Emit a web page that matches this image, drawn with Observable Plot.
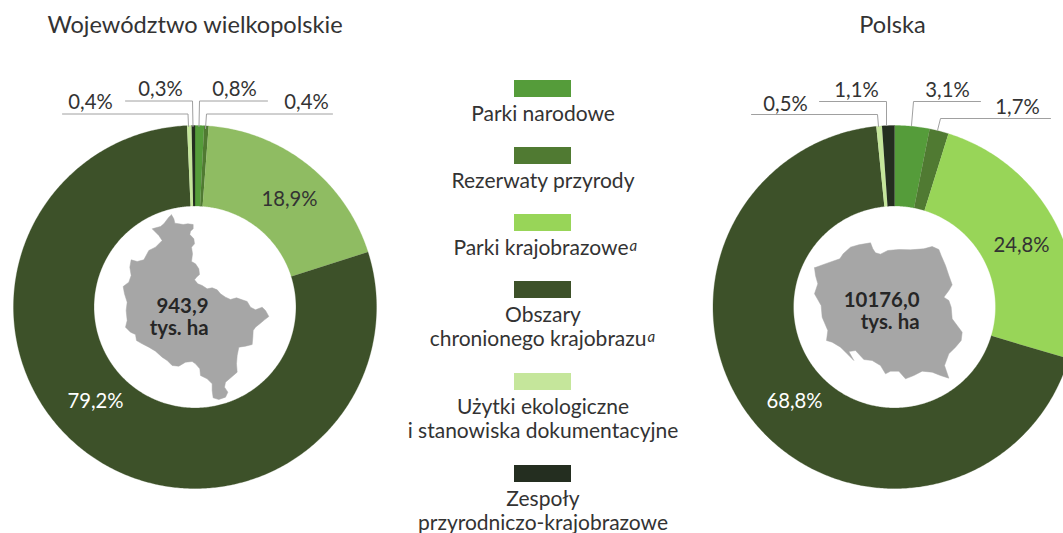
<!DOCTYPE html>
<html lang="pl">
<head>
<meta charset="utf-8">
<script src="https://cdn.jsdelivr.net/npm/d3@7"></script>
<script src="https://cdn.jsdelivr.net/npm/@observablehq/plot@0.6"></script>
<style>html,body{margin:0;padding:0;background:#fff;overflow:hidden}</style>
</head>
<body>
<div id="chart"></div>
<script>
// --- data ---
const categories = ["Parki narodowe","Rezerwaty przyrody","Parki krajobrazowe","Obszary chronionego krajobrazu","Użytki ekologiczne i stanowiska dokumentacyjne","Zespoły przyrodniczo-krajobrazowe"];
const wielkopolskieValues = [0.8,0.4,18.9,79.2,0.4,0.3];
const polskaValues = [3.1,1.7,24.8,68.8,0.5,1.1];
const wielkopolskieLabels = ["0,8%","0,4%","18,9%","79,2%","0,4%","0,3%"];
const polskaLabels = ["3,1%","1,7%","24,8%","68,8%","0,5%","1,1%"];
const legendLines = [["Parki narodowe"],["Rezerwaty przyrody"],["Parki krajobrazowe"],["Obszary","chronionego krajobrazu"],["Użytki ekologiczne","i stanowiska dokumentacyjne"],["Zespoły","przyrodniczo-krajobrazowe"]];
// map silhouettes
const wielkopolskieOutline = [[183,43],[190,55],[193,68],[205,70],[218,72],[232,70],[248,72],[248,85],[240,92],[238,102],[250,115],[252,130],[243,140],[246,160],[243,183],[255,190],[265,205],[267,222],[258,230],[252,238],[262,250],[275,255],[290,265],[305,262],[320,268],[330,280],[345,290],[360,297],[378,292],[395,298],[410,303],[420,320],[435,328],[455,320],[465,330],[475,348],[462,358],[450,368],[435,380],[428,390],[427,410],[425,432],[405,437],[385,440],[380,465],[378,490],[380,515],[365,528],[345,545],[342,560],[352,575],[345,590],[325,597],[308,592],[305,570],[305,550],[290,535],[270,525],[268,505],[255,490],[245,483],[225,485],[205,497],[185,495],[170,480],[155,470],[135,452],[115,440],[95,430],[78,420],[75,402],[60,395],[45,380],[50,360],[47,330],[50,305],[42,280],[38,258],[55,245],[62,225],[58,200],[62,178],[80,183],[100,178],[115,150],[135,140],[155,120],[145,105],[125,85],[150,78],[160,70],[175,50]];
const polskaOutline = [[42,127],[80,113],[118,100],[128,85],[150,65],[175,58],[210,52],[217,70],[225,82],[240,86],[262,75],[295,72],[330,73],[370,70],[395,63],[415,72],[422,90],[435,120],[445,150],[455,178],[445,195],[430,215],[445,225],[452,245],[455,280],[470,300],[485,320],[482,345],[465,365],[445,385],[432,420],[445,458],[420,450],[395,440],[365,437],[340,450],[315,460],[295,437],[270,437],[255,445],[240,420],[215,405],[190,402],[165,375],[145,378],[160,405],[140,385],[120,365],[95,350],[78,345],[82,315],[65,275],[62,240],[42,205],[52,175],[45,150]];

// --- styles & layout ---
const colorsLeft = ["#559c3a","#507a32","#8fbc62","#3d5129","#c5e69b","#242e20"];
const colorsRight = ["#559c3a","#507a32","#98d558","#3d5129","#c5e69b","#242e20"];
const R = 181.5, r = 101, cy = 306.5, cxL = 194.5, cxR = 894;
const font = "Lato";
const fsLabel = 20.3, fsLegend = 21, fsTitle = 23.6;
const ink = "#333";
const leader = "#a0a0a0";

function ringPoints(a0, a1, cx) {
  const n = Math.max(2, Math.ceil((a1 - a0) / 0.01));
  const a = d3.range(n + 1).map(i => a0 + (a1 - a0) * i / n);
  return [
    ...a.map(t => ({x: cx + R * Math.sin(t), y: cy - R * Math.cos(t)})),
    ...a.reverse().map(t => ({x: cx + r * Math.sin(t), y: cy - r * Math.cos(t)}))
  ];
}
function donut(values, colors, cx) {
  const arcs = d3.pie().sort(null).value(d => d)(values);
  return arcs.map((d, i) => Plot.line(ringPoints(d.startAngle, d.endAngle, cx), {
    x: "x", y: "y", fill: colors[i], stroke: colors[i], strokeWidth: 0.3
  }));
}
function outline(pts, x0, y0) {
  return Plot.line(pts.concat([pts[0]]), {x: p => x0 + p[0] / 3, y: p => y0 + p[1] / 3, fill: "#a6a6a6", stroke: "#a6a6a6", strokeWidth: 0.5});
}
const txt = (data, o) => Plot.text(data, {x: "x", y: "y", text: "t", fontFamily: font, fontSize: fsLabel, fill: ink, ...o});

// outer value labels and leaders
const topLabels = [
  {x: 90, y: 101.5, t: wielkopolskieLabels[4]}, {x: 160, y: 88.5, t: wielkopolskieLabels[5]},
  {x: 234, y: 88.5, t: wielkopolskieLabels[0]}, {x: 306, y: 101.5, t: wielkopolskieLabels[1]},
  {x: 785, y: 103.5, t: polskaLabels[4]}, {x: 856, y: 89.5, t: polskaLabels[5]},
  {x: 947, y: 89.5, t: polskaLabels[0]}, {x: 1017, y: 106.5, t: polskaLabels[1]}
];
const inLabels = [
  {x: 289, y: 199, t: wielkopolskieLabels[2]}, {x: 1021, y: 245, t: polskaLabels[2]}
];
const inLabelsWhite = [
  {x: 95, y: 401, t: wielkopolskieLabels[3]}, {x: 794, y: 401, t: polskaLabels[3]}
];
const leaders = [
  [[62,113.5],[187.5,113.5],[188,126]], [[125,100.5],[192,100.5],[192.5,126]],
  [[267,100.5],[199,100.5],[198.5,126]], [[332,113.5],[206,113.5],[205,128]],
  [[751,114],[877,114],[878,126]], [[819,101],[886,101],[886,125]],
  [[980,101],[913,101],[911,125]], [[1050,118],[940,118],[937,130]]
];
// legend
const swTop = [80,147,214,281,373,465];
const swX1 = 514, swX2 = 571, swH = 17, legX = 542.5;
const legendText = legendLines.flatMap((ls, i) => ls.map((t, j) => ({x: legX, y: swTop[i] + 33.5 + j * 24, t})));
const superEnds = [[628, 246], [646, 337]];
const legendTextPlain = legendText.filter(d => d.t !== "Parki krajobrazowe" && d.t !== "chronionego krajobrazu");
const legendTextSup = legendText.filter(d => d.t === "Parki krajobrazowe" || d.t === "chronionego krajobrazu")
  .map((d, i) => ({...d, x: superEnds[i][0]}));

const plot = Plot.plot({
  width: 1063, height: 533, margin: 0,
  x: {domain: [0, 1063], range: [0, 1063], axis: null},
  y: {domain: [0, 533], range: [0, 533], axis: null},
  style: {background: "#fff", fontFamily: font},
  marks: [
    ...donut(wielkopolskieValues, colorsLeft, cxL),
    ...donut(polskaValues, colorsRight, cxR),
    outline(wielkopolskieOutline, 110, 200),
    outline(polskaOutline, 800, 225),
    ...leaders.map(l => Plot.line(l, {x: p => p[0], y: p => p[1], stroke: leader, strokeWidth: 1})),
    txt(topLabels, {}),
    txt(inLabels, {}),
    txt(inLabelsWhite, {fill: "#fff"}),
    txt([{x: 194.5, y: 25, t: "Województwo wielkopolskie"}, {x: 892, y: 25, t: "Polska"}], {fontSize: fsTitle}),
    txt([{x: 208, y: 306, t: "943,9"}, {x: 208, y: 328, t: "tys. ha"}, {x: 919, y: 300, t: "10176,0"}, {x: 919, y: 322, t: "tys. ha"}],
      {textAnchor: "end", fontWeight: 700, fontSize: 20.4, fill: "#262626"}),
    Plot.rect(categories.map((c, i) => ({c: colorsRight[i], y: swTop[i]})), {
      x1: () => swX1, x2: () => swX2, y1: "y", y2: d => d.y + swH, fill: d => d.c, insetTop: 0
    }),
    txt(legendTextPlain, {fontSize: fsLegend}),
    txt(legendTextSup, {textAnchor: "end", fontSize: fsLegend}),
    txt(superEnds.map(p => ({x: p[0] + 1, y: p[1], t: "a"})), {textAnchor: "start", fontStyle: "italic", fontSize: 15})
  ]
});
document.getElementById("chart").appendChild(plot);
</script>
</body>
</html>
